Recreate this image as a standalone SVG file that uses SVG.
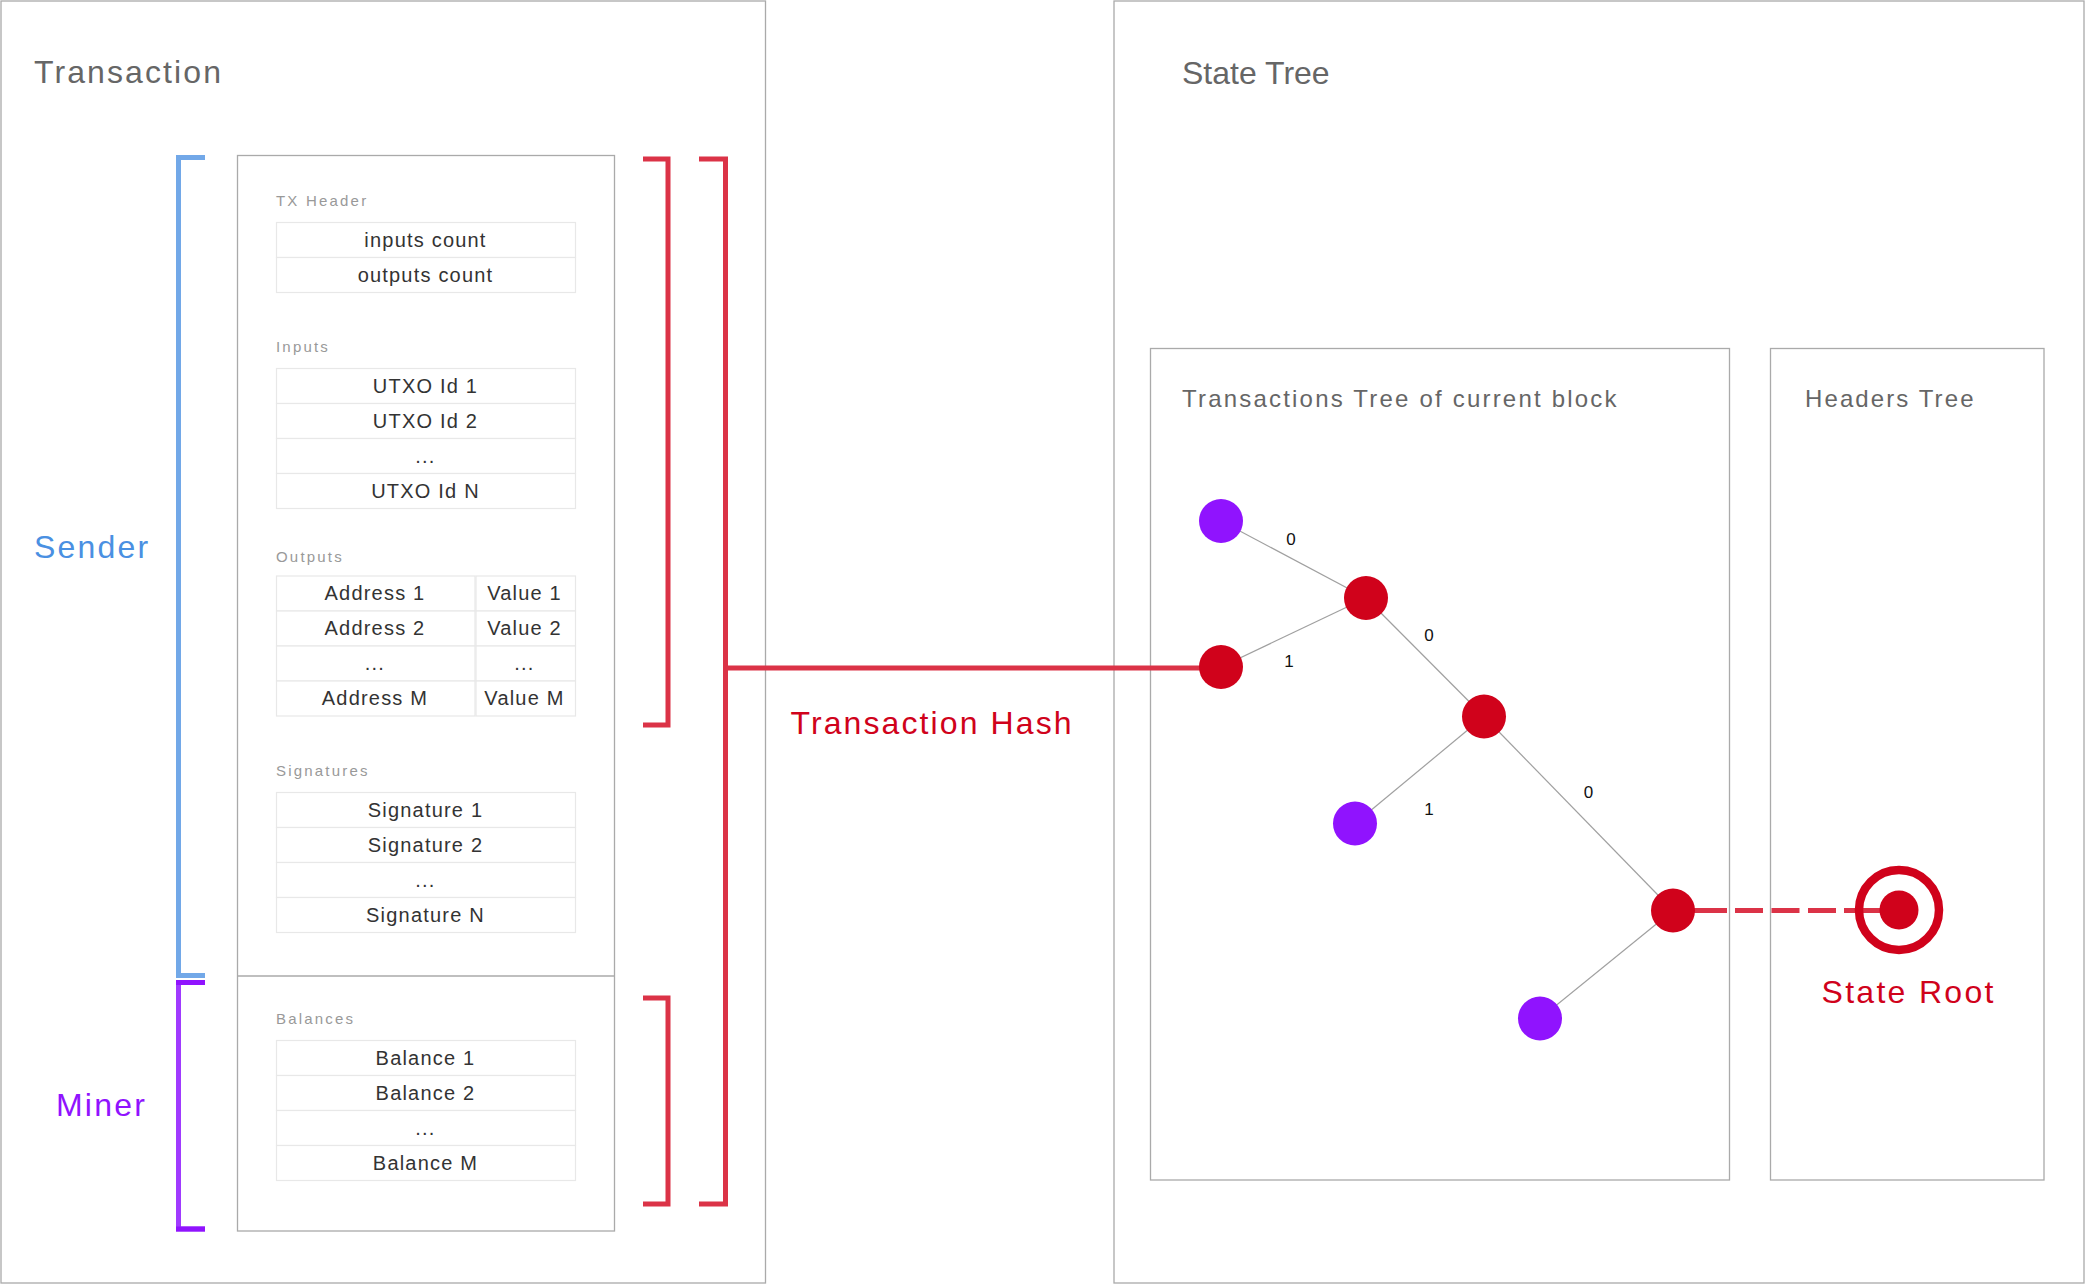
<svg xmlns="http://www.w3.org/2000/svg" width="2085" height="1284" viewBox="0 0 2085 1284">
<style>
  text { font-family: "Liberation Sans", Arial, sans-serif; }
  .frame { fill: #fff; stroke: #aaaaaa; stroke-width: 1.3; }
  .title { font-size: 32px; fill: #666666; }
  .sub { font-size: 24px; fill: #666666; letter-spacing: 2.2px; }
  .lbl { font-size: 15px; fill: #999999; letter-spacing: 2.2px; }
  .cell { fill: #ffffff; stroke: #e8e8e8; stroke-width: 1.2; }
  .ct { font-size: 20px; fill: #333333; letter-spacing: 1.2px; text-anchor: middle; }
  .big { font-size: 32px; letter-spacing: 2.2px; }
  .edge { stroke: #a0a0a0; stroke-width: 1.2; fill: none; }
  .red { fill: #D0021B; }
  .purple { fill: #9013FE; }
  .bracket-red { fill: none; stroke: #DB3347; stroke-width: 5; }
  .digit { font-size: 17px; fill: #111111; text-anchor: middle; }
</style>

<g id="transaction">
  <rect class="frame" x="1" y="1" width="764.5" height="1282"/>
  <text class="title" x="34" y="83" style="letter-spacing:2.1px">Transaction</text>
</g>

<g id="state-tree">
  <rect class="frame" x="1114" y="1" width="970" height="1282"/>
  <text class="title" x="1182" y="84">State Tree</text>
</g>

<g id="tx-body">
  <rect class="frame" x="237.5" y="155.5" width="377" height="1075.5"/>
  <line x1="237.5" y1="976" x2="614.5" y2="976" stroke="#aaaaaa" stroke-width="1.3"/>
</g>

<g id="tx-header">
  <text class="lbl" x="276" y="206">TX Header</text>
  <rect class="cell" x="276.5" y="222.5" width="299" height="35"/>
  <rect class="cell" x="276.5" y="257.5" width="299" height="35"/>
  <text class="ct" x="425.5" y="246.5">inputs count</text>
  <text class="ct" x="425.5" y="281.5">outputs count</text>
</g>

<g id="inputs">
  <text class="lbl" x="276" y="352">Inputs</text>
  <rect class="cell" x="276.5" y="368.5" width="299" height="35"/>
  <rect class="cell" x="276.5" y="403.5" width="299" height="35"/>
  <rect class="cell" x="276.5" y="438.5" width="299" height="35"/>
  <rect class="cell" x="276.5" y="473.5" width="299" height="35"/>
  <text class="ct" x="425.5" y="392.5">UTXO Id 1</text>
  <text class="ct" x="425.5" y="427.5">UTXO Id 2</text>
  <text class="ct" x="425.5" y="462.5">...</text>
  <text class="ct" x="425.5" y="497.5">UTXO Id N</text>
</g>

<g id="outputs">
  <text class="lbl" x="276" y="562">Outputs</text>
  <rect class="cell" x="276.5" y="576" width="198.5" height="35"/>
  <rect class="cell" x="276.5" y="611" width="198.5" height="35"/>
  <rect class="cell" x="276.5" y="646" width="198.5" height="35"/>
  <rect class="cell" x="276.5" y="681" width="198.5" height="35"/>
  <rect class="cell" x="476" y="576" width="99.5" height="35"/>
  <rect class="cell" x="476" y="611" width="99.5" height="35"/>
  <rect class="cell" x="476" y="646" width="99.5" height="35"/>
  <rect class="cell" x="476" y="681" width="99.5" height="35"/>
  <text class="ct" x="375" y="600">Address 1</text>
  <text class="ct" x="375" y="635">Address 2</text>
  <text class="ct" x="375" y="670">...</text>
  <text class="ct" x="375" y="705">Address M</text>
  <text class="ct" x="524.5" y="600">Value 1</text>
  <text class="ct" x="524.5" y="635">Value 2</text>
  <text class="ct" x="524.5" y="670">...</text>
  <text class="ct" x="524.5" y="705">Value M</text>
</g>

<g id="signatures">
  <text class="lbl" x="276" y="776">Signatures</text>
  <rect class="cell" x="276.5" y="792.5" width="299" height="35"/>
  <rect class="cell" x="276.5" y="827.5" width="299" height="35"/>
  <rect class="cell" x="276.5" y="862.5" width="299" height="35"/>
  <rect class="cell" x="276.5" y="897.5" width="299" height="35"/>
  <text class="ct" x="425.5" y="816.5">Signature 1</text>
  <text class="ct" x="425.5" y="851.5">Signature 2</text>
  <text class="ct" x="425.5" y="886.5">...</text>
  <text class="ct" x="425.5" y="921.5">Signature N</text>
</g>

<g id="balances">
  <text class="lbl" x="276" y="1024">Balances</text>
  <rect class="cell" x="276.5" y="1040.5" width="299" height="35"/>
  <rect class="cell" x="276.5" y="1075.5" width="299" height="35"/>
  <rect class="cell" x="276.5" y="1110.5" width="299" height="35"/>
  <rect class="cell" x="276.5" y="1145.5" width="299" height="35"/>
  <text class="ct" x="425.5" y="1064.5">Balance 1</text>
  <text class="ct" x="425.5" y="1099.5">Balance 2</text>
  <text class="ct" x="425.5" y="1134.5">...</text>
  <text class="ct" x="425.5" y="1169.5">Balance M</text>
</g>

<g id="sender">
  <path d="M205,157.5 H178.5 V975.5 H205" fill="none" stroke="#72A8E8" stroke-width="5"/>
  <text class="big" x="34" y="558" fill="#4A90E2">Sender</text>
</g>

<g id="miner">
  <path d="M205,982.5 H178.5 V1229 H205" fill="none" stroke="#A03AFF" stroke-width="5"/>
  <path d="M205,982.5 H176 M205,1229 H176" fill="none" stroke="#9013FE" stroke-width="5"/>
  <text class="big" x="56" y="1116" fill="#9013FE">Miner</text>
</g>

<g id="brackets">
  <path class="bracket-red" d="M643,159 H668 V725 H643"/>
  <path class="bracket-red" d="M643,998 H668 V1204 H643"/>
  <path class="bracket-red" d="M699,159 H725.5 V1204 H699"/>
</g>

<g id="tx-hash-label">
  <text class="big" x="790.5" y="733.5" fill="#D0021B" style="letter-spacing:2.1px">Transaction Hash</text>
</g>

<g id="transactions-tree">
  <rect class="frame" x="1150.5" y="348.5" width="579" height="831.5"/>
  <text class="sub" x="1182" y="407">Transactions Tree of current block</text>
</g>

<g id="headers-tree">
  <rect class="frame" x="1770.5" y="348.5" width="273.5" height="831.5"/>
  <text class="sub" x="1805" y="407" style="letter-spacing:2.1px">Headers Tree</text>
</g>

<g id="connectors">
  <line class="edge" x1="1221" y1="521" x2="1366" y2="598"/>
  <line class="edge" x1="1221" y1="667" x2="1366" y2="598"/>
  <line class="edge" x1="1366" y1="598" x2="1484" y2="716.5"/>
  <line class="edge" x1="1484" y1="716.5" x2="1355" y2="823.5"/>
  <line class="edge" x1="1484" y1="716.5" x2="1673" y2="910.5"/>
  <line class="edge" x1="1673" y1="910.5" x2="1540" y2="1018.5"/>
  <path d="M725.5,668 H1221" fill="none" stroke="#DB3347" stroke-width="5"/>
  <line x1="1673" y1="910.5" x2="1899" y2="910.5" stroke="#DB3347" stroke-width="5" stroke-dasharray="54 8 28 8.5 28 8.5 28 8 80"/>
  <text class="digit" x="1291" y="545">0</text>
  <text class="digit" x="1289" y="667">1</text>
  <text class="digit" x="1429" y="640.5">0</text>
  <text class="digit" x="1429" y="815">1</text>
  <text class="digit" x="1588.5" y="798">0</text>
</g>

<g id="leaf-1"><circle class="purple" cx="1221" cy="521" r="22"/></g>
<g id="node-a"><circle class="red" cx="1366" cy="598" r="22"/></g>
<g id="node-b"><circle class="red" cx="1221" cy="667" r="22"/></g>
<g id="node-c"><circle class="red" cx="1484" cy="716.5" r="22"/></g>
<g id="leaf-2"><circle class="purple" cx="1355" cy="823.5" r="22"/></g>
<g id="node-d"><circle class="red" cx="1673" cy="910.5" r="22"/></g>
<g id="leaf-3"><circle class="purple" cx="1540" cy="1018.5" r="22"/></g>

<g id="state-root">
  <circle cx="1899" cy="910" r="40" fill="none" stroke="#D0021B" stroke-width="8.5"/>
  <circle class="red" cx="1899" cy="910" r="19.5"/>
  <text class="big" x="1821.5" y="1003" fill="#D0021B" style="letter-spacing:2.3px">State Root</text>
</g>
</svg>
